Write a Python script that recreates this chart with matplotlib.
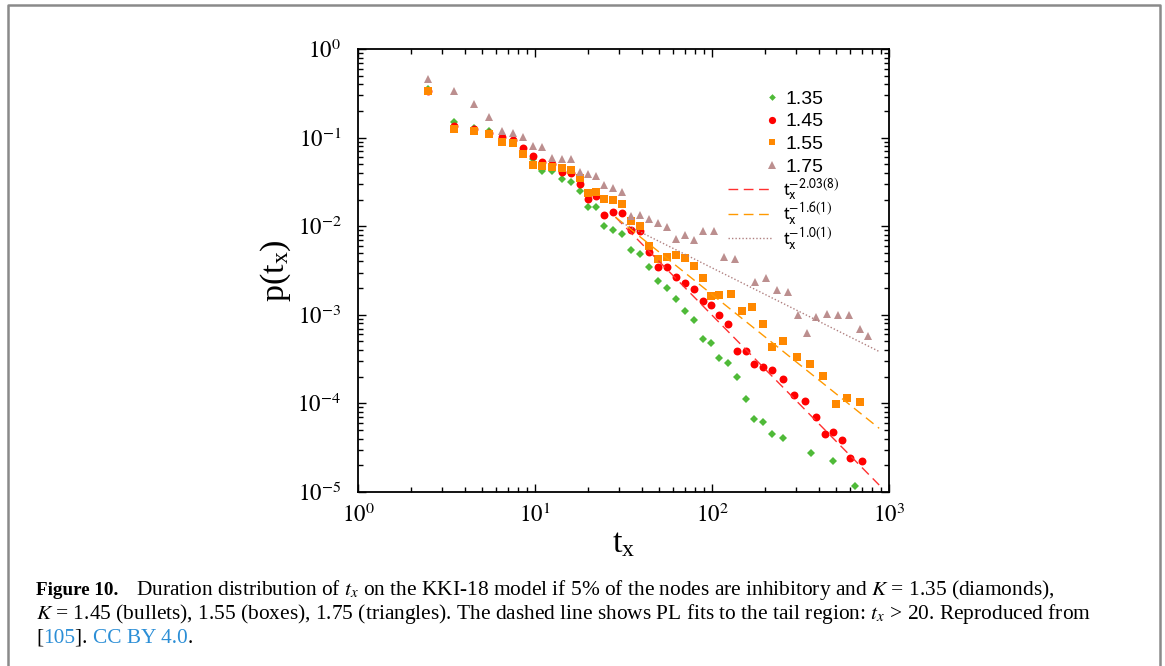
import numpy as np
import matplotlib
matplotlib.use('Agg')
import matplotlib.pyplot as plt
from matplotlib.lines import Line2D
from matplotlib.font_manager import FontProperties
from matplotlib.ticker import LogLocator, NullFormatter

# durations t_x shared by all runs at short times
t_head = [2.5, 3.5, 4.5, 5.5, 6.5, 7.5, 8.5, 9.7, 11.0, 12.5, 14.2, 16.0,
          17.9, 19.9, 22.2, 24.6, 27.7, 31.1]

# K = 1.35 (diamonds)
t_135 = t_head + [35.0, 39.4, 44.2, 49.7, 55.9, 62.6, 70.4, 78.8, 88.6, 98.7,
                  110, 123, 138, 155, 173, 195, 218, 252, 361, 484, 642]
p_135 = [0.35, 0.15, 0.129, 0.118, 0.095, 0.088, 0.07, 0.0578, 0.042, 0.042,
         0.0341, 0.0315, 0.0252, 0.0165, 0.0165, 0.0101, 0.009, 0.0082,
         0.00543, 0.0049, 0.00346, 0.00239, 0.00199, 0.00152, 0.00111, 0.00088,
         0.000533, 0.000484, 0.000328, 0.000286, 0.0002, 0.000112, 6.67e-5,
         6.17e-5, 4.48e-5, 4.07e-5, 2.73e-5, 2.26e-5, 1.18e-5]

# K = 1.45 (bullets)
t_145 = t_head + [35.0, 39.4, 44.2, 49.7, 55.9, 62.6, 70.4, 78.8, 88.6, 98.7,
                  110, 123, 138, 155, 173, 195, 218, 252, 292, 337, 385, 433,
                  484, 542, 604, 703]
p_145 = [0.34, 0.134, 0.124, 0.113, 0.1007, 0.094, 0.0769, 0.0625, 0.0526,
         0.05, 0.0406, 0.0395, 0.030, 0.0205, 0.0218, 0.0135, 0.0145, 0.0141,
         0.00906, 0.00883, 0.00515, 0.00349, 0.00349, 0.00267, 0.0023, 0.00197,
         0.00144, 0.00129, 0.001, 0.000787, 0.000394, 0.00039, 0.000276,
         0.000255, 0.00024, 0.000188, 0.000125, 0.000107, 7.03e-5, 4.55e-5,
         4.72e-5, 3.86e-5, 2.42e-5, 2.22e-5]

# K = 1.55 (boxes)
t_155 = t_head + [35.0, 39.4, 44.2, 49.7, 55.9, 62.6, 70.4, 78.8, 88.6, 98.7,
                  110, 127.7, 148, 169, 193, 218, 252, 303, 358, 422, 500, 579,
                  689]
p_155 = [0.335, 0.125, 0.118, 0.11, 0.09, 0.0862, 0.0653, 0.0487, 0.0478,
         0.0462, 0.045, 0.043, 0.0347, 0.0235, 0.0245, 0.0201, 0.0198, 0.0178,
         0.01135, 0.01005, 0.00603, 0.00427, 0.00446, 0.00477, 0.00434,
         0.00353, 0.0026, 0.00164, 0.00169, 0.00173, 0.00111, 0.00122,
         0.000794, 0.00043, 0.000502, 0.000337, 0.000276, 0.000202, 9.84e-5,
         0.000115, 0.000104]

# K = 1.75 (triangles)
t_175 = t_head + [35.0, 39.4, 44.2, 49.7, 55.9, 62.6, 70.4, 78.8, 88.6, 102,
                  117, 135, 176, 201, 233, 268, 306, 344, 385, 445, 513, 592,
                  683, 764]
p_175 = [0.46, 0.339, 0.238, 0.17, 0.119, 0.114, 0.101, 0.08, 0.078, 0.0593,
         0.0569, 0.0569, 0.0412, 0.0385, 0.0369, 0.029, 0.0268, 0.0245,
         0.01294, 0.0133, 0.01197, 0.01096, 0.0097, 0.0071, 0.00796, 0.00698,
         0.00883, 0.00875, 0.00446, 0.0043, 0.00234, 0.00258, 0.00189, 0.00181,
         0.001, 0.000623, 0.000937, 0.00102, 0.001, 0.001, 0.000692, 0.000576]

# power-law fits of the tails: p = 10**log_amp * t**(-slope)
fit_slopes = [2.03, 1.6, 1.0]
fit_log_amp = [1.056, 0.43, -0.47]
fit_ranges = [(28.5, 880), (28.5, 880), (30, 880)]
fit_labels = [r'$\mathrm{t_x^{-2.03(8)}}$', r'$\mathrm{t_x^{-1.6(1)}}$',
              r'$\mathrm{t_x^{-1.0(1)}}$']

W, H = 1165, 666
fig = plt.figure(figsize=(W / 100, H / 100), dpi=100)
ax = fig.add_axes([358 / W, 1 - 492 / H, 531 / W, 443 / H])

green = '#4fba38'
red = '#ff0000'
orange = '#ff8800'
brown = '#bc8f8f'

ax.plot(t_135, p_135, ls='', marker='D', ms=3.8, color=green, mew=0)
ax.plot(t_145, p_145, ls='', marker='o', ms=5.7, color=red, mew=0)
ax.plot(t_155, p_155, ls='', marker='s', ms=5.3, color=orange, mew=0)
ax.plot(t_175, p_175, ls='', marker='^', ms=6.0, color=brown, mew=0)

fit_styles = [dict(color='#ff3030', ls=(0, (7, 4)), lw=1.0),
              dict(color='#ff9900', ls=(0, (7, 4)), lw=1.0),
              dict(color='#b08080', ls=(0, (1, 1.5)), lw=1.0)]
fit_handles = []
for s, a, (lo, hi), st in zip(fit_slopes, fit_log_amp, fit_ranges, fit_styles):
    tt = np.logspace(np.log10(lo), np.log10(hi), 100)
    h, = ax.plot(tt, 10 ** a * tt ** (-s), **st)
    fit_handles.append(h)

ax.set_xscale('log')
ax.set_yscale('log')
ax.set_xlim(1, 1000)
ax.set_ylim(1e-5, 1)

tick_font = FontProperties(family='Liberation Serif', size=16.5, math_fontfamily='stix')
xt = [1, 10, 100, 1000]
yt = [1e-5, 1e-4, 1e-3, 1e-2, 1e-1, 1]
ax.set_xticks(xt)
ax.set_xticklabels([r'$10^{%d}$' % np.log10(v) for v in xt], fontproperties=tick_font)
ax.set_yticks(yt)
ax.set_yticklabels([r'$10^{%d}$' % round(np.log10(v)) for v in yt], fontproperties=tick_font)
ax.xaxis.set_minor_locator(LogLocator(base=10, subs=np.arange(2, 10), numticks=20))
ax.yaxis.set_minor_locator(LogLocator(base=10, subs=np.arange(2, 10), numticks=20))
ax.xaxis.set_minor_formatter(NullFormatter())
ax.yaxis.set_minor_formatter(NullFormatter())
ax.tick_params(which='both', direction='in', top=True, right=True, width=1.0)
ax.tick_params(which='major', length=6)
ax.tick_params(which='minor', length=3.5)
ax.tick_params(axis='y', which='major', pad=12)
ax.tick_params(axis='x', which='major', pad=8.5)
for sp in ax.spines.values():
    sp.set_linewidth(1.3)

label_font = FontProperties(family='Liberation Serif', size=24.5, math_fontfamily='stix')
ax.set_ylabel(r'$\mathregular{p(t_x)}$', fontproperties=label_font, labelpad=3)
ax.set_xlabel(r'$\mathregular{t_x}$', fontproperties=label_font, labelpad=1)

# legend for the data sets
mk_handles = [Line2D([], [], ls='', marker='D', ms=3.4, color=green, mew=0),
              Line2D([], [], ls='', marker='o', ms=5.2, color=red, mew=0),
              Line2D([], [], ls='', marker='s', ms=4.8, color=orange, mew=0),
              Line2D([], [], ls='', marker='^', ms=5.4, color=brown, mew=0)]
leg1 = ax.legend(mk_handles, ['1.35', '1.45', '1.55', '1.75'],
                 loc='upper left', bbox_to_anchor=(0.766, 0.907),
                 frameon=False, borderpad=0, borderaxespad=0,
                 handlelength=0.7, handletextpad=0.35, labelspacing=0.26,
                 prop=FontProperties(family='Liberation Sans', size=14))
ax.add_artist(leg1)

# legend for the fits
ax.legend(fit_handles, fit_labels, loc='upper left',
          bbox_to_anchor=(0.696, 0.712), frameon=False, borderpad=0,
          borderaxespad=0, handlelength=2.35, handletextpad=0.5,
          labelspacing=-0.12,
          prop=FontProperties(family='Liberation Sans', size=14,
                              math_fontfamily='stixsans'))

# frame around figure and caption
frame_kw = dict(color='#8a8a8a', lw=1.8, transform=fig.transFigure)
fig.add_artist(Line2D([7.5 / W, 7.5 / W, 1160 / W, 1160 / W],
                      [0, 1 - 5 / H, 1 - 5 / H, 0], **frame_kw))

blue = '#2b8ed6'
renderer = fig.canvas.get_renderer()


def caption_line(y_px, pieces):
    x = 36
    for text, start, kw in pieces:
        if start is not None:
            x = start
        style = dict(fontsize=15.4, family='Liberation Serif', math_fontfamily='stix')
        style.update(kw)
        t = fig.text(x / W, 1 - y_px / H, text, ha='left', va='baseline', **style)
        x += t.get_window_extent(renderer).width


caption_line(595, [('Figure 10.', None, dict(weight='bold', fontsize=13.8)),
                   (r'Duration distribution of $t_x$ on the KKI-18 model if 5% of the nodes '
                    r'are inhibitory and $K$ = 1.35 (diamonds),', 136, {})])
caption_line(619, [(r'$K$ = 1.45 (bullets), 1.55 (boxes), 1.75 (triangles). The dashed line '
                    r'shows PL fits to the tail region: $t_x$ > 20. Reproduced from', None, {})])
caption_line(643, [('[', None, {}), ('105', None, dict(color=blue)), (']. ', None, {}),
                   ('CC BY 4.0', None, dict(color=blue)), ('.', None, {})])

fig.savefig('out.png', dpi=100)
